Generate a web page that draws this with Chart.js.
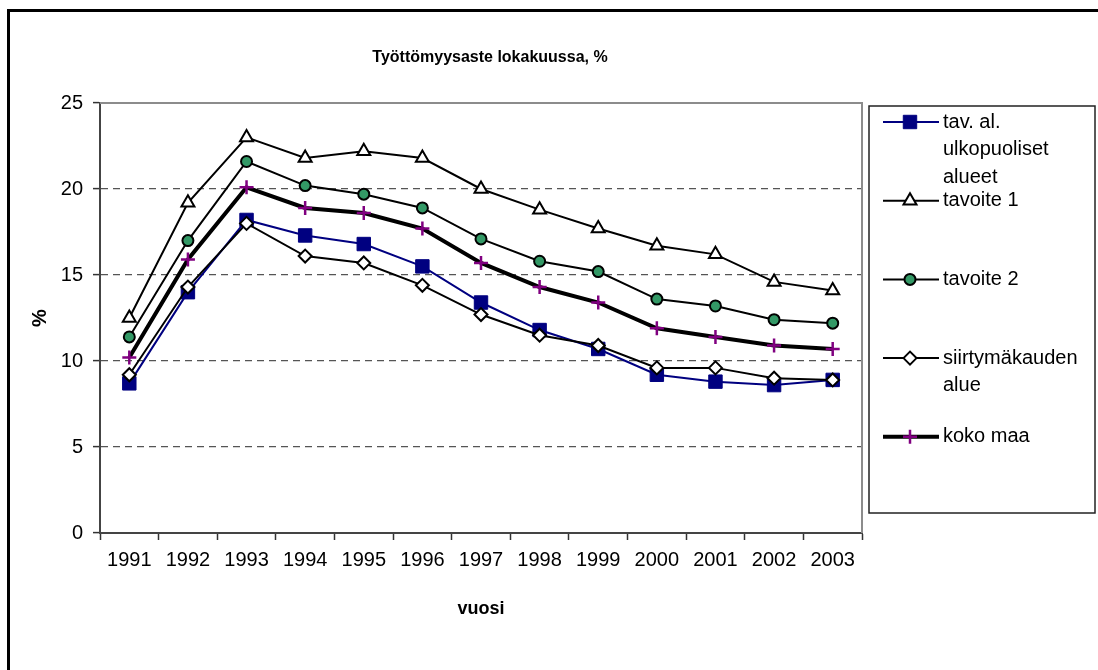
<!DOCTYPE html>
<html><head><meta charset="utf-8">
<script src="https://cdn.jsdelivr.net/npm/chart.js@4/dist/chart.umd.min.js"></script>
<style>html,body{margin:0;padding:0;background:#fff;overflow:hidden}#wrap{position:relative;width:1098px;height:670px}</style>
</head><body><div id="wrap"><canvas id="c" width="1098" height="670"></canvas></div>
<script>
const TITLE = 'Työttömyysaste lokakuussa, %';
const X_TITLE = 'vuosi';
const Y_TITLE = '%';
const years = ['1991','1992','1993','1994','1995','1996','1997','1998','1999','2000','2001','2002','2003'];
const yTicks = [0, 5, 10, 15, 20, 25];
const seriesLabels = [
  ['tav. al.', 'ulkopuoliset', 'alueet'],
  ['tavoite 1'],
  ['tavoite 2'],
  ['siirtymäkauden', 'alue'],
  ['koko maa']
];
const tavAl     = [8.7, 14.0, 18.2, 17.3, 16.8, 15.5, 13.4, 11.8, 10.7, 9.2, 8.8, 8.6, 8.9];
const tavoite1  = [12.5, 19.2, 23.0, 21.8, 22.2, 21.8, 20.0, 18.8, 17.7, 16.7, 16.2, 14.6, 14.1];
const tavoite2  = [11.4, 17.0, 21.6, 20.2, 19.7, 18.9, 17.1, 15.8, 15.2, 13.6, 13.2, 12.4, 12.2];
const siirtyma  = [9.2, 14.3, 18.0, 16.1, 15.7, 14.4, 12.7, 11.5, 10.9, 9.6, 9.6, 9.0, 8.9];
const kokoMaa   = [10.2, 15.9, 20.1, 18.9, 18.6, 17.7, 15.7, 14.3, 13.4, 11.9, 11.4, 10.9, 10.7];

const FONT = "'Liberation Sans', Arial, sans-serif";

const decorPlugin = {
  id: 'decor',
  beforeDatasetsDraw(chart) {
    const {ctx, chartArea: a} = chart;
    ctx.save();
    ctx.strokeStyle = '#8c8c8c';
    ctx.lineWidth = 2;
    ctx.beginPath();
    ctx.moveTo(a.left, a.top);
    ctx.lineTo(a.right, a.top);
    ctx.lineTo(a.right, a.bottom);
    ctx.stroke();
    ctx.restore();
  },
  afterDraw(chart) {
    const {ctx} = chart;
    ctx.save();
    ctx.fillStyle = '#000';
    ctx.fillRect(7, 9, 1098, 3);
    ctx.fillRect(7, 9, 3, 670);
    ctx.fillStyle = '#000';
    ctx.font = 'bold 16px ' + FONT;
    ctx.textAlign = 'center';
    ctx.textBaseline = 'middle';
    ctx.fillText(TITLE, 490, 58);
    const L = 869, T = 106, R = 1095, B = 513;
    ctx.strokeStyle = '#222';
    ctx.lineWidth = 1.5;
    ctx.strokeRect(L, T, R - L, B - T);
    const firstY = 122, step = 78.7, lineH = 27.5;
    chart.data.datasets.forEach((ds, i) => {
      const y = firstY + i * step;
      ctx.beginPath();
      ctx.strokeStyle = ds.borderColor;
      ctx.lineWidth = ds.borderWidth;
      ctx.moveTo(883, y);
      ctx.lineTo(939, y);
      ctx.stroke();
      ctx.fillStyle = ds.pointBackgroundColor;
      ctx.strokeStyle = ds.pointBorderColor;
      ctx.lineWidth = ds.pointBorderWidth;
      Chart.helpers.drawPoint(ctx, {pointStyle: ds.pointStyle, radius: ds.pointRadius, rotation: 0, borderWidth: ds.pointBorderWidth}, 910, y);
      ctx.fillStyle = '#000';
      ctx.font = '20px ' + FONT;
      ctx.textAlign = 'left';
      ctx.textBaseline = 'middle';
      seriesLabels[i].forEach((t, k) => ctx.fillText(t, 943, y + k * lineH));
    });
    ctx.restore();
  }
};

new Chart(document.getElementById('c'), {
  type: 'line',
  data: {
    labels: years,
    datasets: [
      {label: seriesLabels[0].join(' '), data: tavAl, borderColor: '#000080', borderWidth: 2,
       pointStyle: 'rect', pointRadius: 9.5, pointBackgroundColor: '#000080', pointBorderColor: '#000080', pointBorderWidth: 1, order: 4},
      {label: seriesLabels[1].join(' '), data: tavoite1, borderColor: '#000', borderWidth: 2,
       pointStyle: 'triangle', pointRadius: 7.5, pointBackgroundColor: '#fff', pointBorderColor: '#000', pointBorderWidth: 2, order: 3},
      {label: seriesLabels[2].join(' '), data: tavoite2, borderColor: '#000', borderWidth: 2,
       pointStyle: 'circle', pointRadius: 5.5, pointBackgroundColor: '#339966', pointBorderColor: '#000', pointBorderWidth: 2, order: 2},
      {label: seriesLabels[3].join(' '), data: siirtyma, borderColor: '#000', borderWidth: 2,
       pointStyle: 'rectRot', pointRadius: 6.5, pointBackgroundColor: '#fff', pointBorderColor: '#000', pointBorderWidth: 2, order: 1},
      {label: seriesLabels[4].join(' '), data: kokoMaa, borderColor: '#000', borderWidth: 4,
       pointStyle: 'cross', pointRadius: 7, pointBackgroundColor: '#800080', pointBorderColor: '#800080', pointBorderWidth: 2.5, order: 0}
    ]
  },
  options: {
    responsive: false,
    animation: false,
    devicePixelRatio: 1,
    layout: {padding: {left: 0, right: 236, top: 103, bottom: 46}},
    elements: {line: {tension: 0}},
    plugins: {legend: {display: false}, title: {display: false}, tooltip: {enabled: false}},
    scales: {
      x: {
        offset: true,
        grid: {offset: true, drawOnChartArea: false, tickLength: 7, tickColor: '#333', tickWidth: 1.5},
        border: {color: '#444', width: 2},
        ticks: {font: {family: FONT, size: 20}, color: '#000', padding: 8, maxRotation: 0, autoSkip: false},
        title: {display: true, text: X_TITLE, color: '#000', font: {family: FONT, size: 18, weight: 'bold'}, padding: {top: 0, bottom: 4}},
        afterFit: s => { s.height = 91; }
      },
      y: {
        min: yTicks[0], max: yTicks[yTicks.length - 1],
        ticks: {stepSize: yTicks[1] - yTicks[0], font: {family: FONT, size: 20}, color: '#000', padding: 10},
        grid: {color: c => (c.tick && (c.tick.value === yTicks[0] || c.tick.value === yTicks[yTicks.length - 1])) ? 'rgba(0,0,0,0)' : '#555',
               lineWidth: 1.2, tickLength: 7, tickColor: '#333', tickWidth: 1.5},
        border: {color: '#444', width: 2, dash: [7, 5]},
        title: {display: true, text: Y_TITLE, color: '#000', font: {family: FONT, size: 20, weight: 'bold'}, padding: {top: 28, bottom: 0}},
        afterFit: s => { s.width = 100; }
      }
    }
  },
  plugins: [decorPlugin]
});
</script>
</body></html>
